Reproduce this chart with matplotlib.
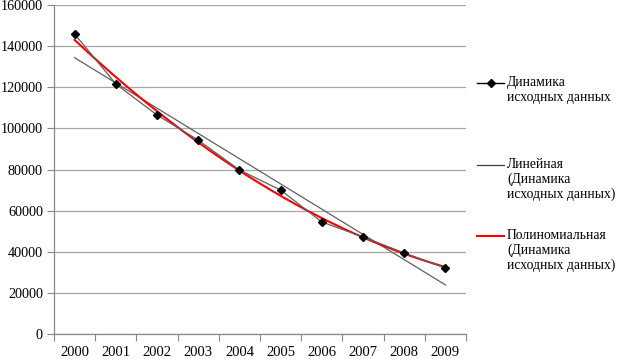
import numpy as np
import matplotlib.pyplot as plt
from matplotlib.lines import Line2D

plt.rcParams['font.family'] = ['Liberation Serif', 'DejaVu Serif']

years = ['2000', '2001', '2002', '2003', '2004', '2005', '2006', '2007', '2008', '2009']
values = [145900, 121600, 106500, 94300, 79800, 70000, 54500, 47200, 39400, 32100]
labels = ['Динамика\nисходных данных',
          'Линейная\n(Динамика\nисходных данных)',
          'Полиномиальная\n(Динамика\nисходных данных)']

X = np.arange(len(years))
Y = np.array(values)

# линии тренда, как в Excel
lin = np.polyval(np.polyfit(X, Y, 1), X)
xs = np.linspace(X.min(), X.max(), 200)
poly = np.polyval(np.polyfit(X, Y, 2), xs)

fig = plt.figure(figsize=(6.17, 3.59), dpi=100)
ax = fig.add_axes([54/617, 1 - 334/359, (466 - 54)/617, (334 - 5)/359])

ax.plot(X, Y, color='#606060', lw=0.9, marker='D', ms=4.5,
        mfc='black', mec='black', zorder=4)
ax.plot(X, lin, color='#606060', lw=0.9, zorder=3)
ax.plot(xs, poly, color='#FF0000', lw=1.5, zorder=3)

ax.set_xlim(-0.5, 9.5)
ax.set_ylim(0, 160000)
ax.set_yticks(np.arange(0, 160001, 20000))
ax.yaxis.grid(True, color='#A6A6A6', lw=0.9)
ax.set_axisbelow(True)

ax.set_xticks(np.arange(-0.5, 10, 1))
ax.set_xticklabels([])
ax.set_xticks(X, minor=True)
ax.set_xticklabels(years, minor=True)
ax.tick_params(axis='x', which='major', length=5, color='#888888', direction='out')
ax.tick_params(axis='x', which='minor', length=0, pad=9, labelsize=10.5)
ax.tick_params(axis='y', length=5, color='#888888', direction='out', pad=3, labelsize=10.2)

for s in ['top', 'right']:
    ax.spines[s].set_visible(False)
for s in ['left', 'bottom']:
    ax.spines[s].set_color('#888888')
    ax.spines[s].set_linewidth(0.9)

# легенда
W, H = 617, 359
leg = [(83, dict(color='black', lw=1.0)),
       (165, dict(color='#404040', lw=0.9)),
       (236, dict(color='#FF0000', lw=1.5))]
for (ypx, st), lab in zip(leg, labels):
    fig.add_artist(Line2D([477/W, 504/W], [1 - ypx/H] * 2, transform=fig.transFigure, **st))
    fig.text(507/W, 1 - (ypx - 7)/H, lab, fontsize=9.8, va='top', ha='left',
             linespacing=1.15)
fig.add_artist(Line2D([490.5/W], [1 - 83/H], transform=fig.transFigure,
                      marker='D', ms=4, mfc='black', mec='black', ls='none'))

fig.savefig('out.png', dpi=100)
